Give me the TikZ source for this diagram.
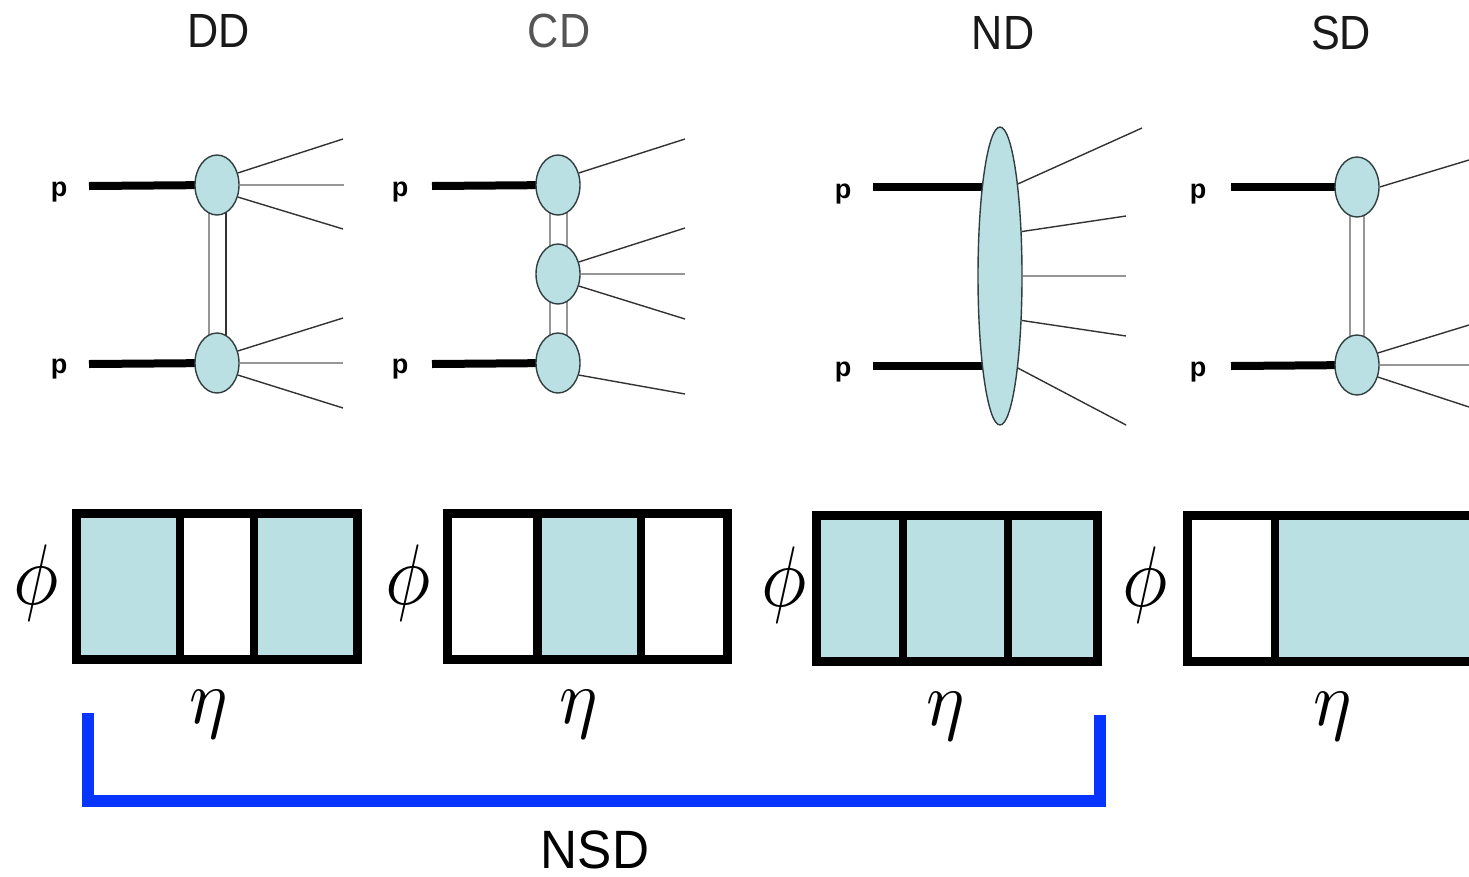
\documentclass[tikz,border=0pt]{standalone}
\usepackage{graphicx}
\usepackage{fontspec}
\setmainfont{Liberation Sans}
\usetikzlibrary{shapes.geometric}
\pgfdeclarelayer{bg}
\pgfsetlayers{bg,main}
\definecolor{blobfill}{RGB}{186,224,227}
\definecolor{blobedge}{RGB}{50,62,64}
\definecolor{jetdark}{RGB}{50,50,50}
\definecolor{jetlight}{RGB}{150,150,150}
\definecolor{nsdblue}{RGB}{8,52,255}
\definecolor{titlegray}{RGB}{85,85,85}
\definecolor{titledark}{RGB}{25,25,25}
\newcommand{\ttl}[1]{\scalebox{0.9}[1]{\fontsize{48}{50}\selectfont #1}}
\newcommand{\bigphi}{\scalebox{7.6}[8.6]{$\phi$}}
\newcommand{\bigeta}{\scalebox{7.2}[7.7]{$\eta$}}
\tikzset{
  blob/.style={ellipse, draw=blobedge, fill=blobfill, line width=1.4pt, minimum width=44pt, minimum height=60pt, inner sep=0pt},
  bigblob/.style={blob, minimum height=298pt},
  beam/.style={line width=8pt, black},
  jet/.style={draw=jetdark, line width=1.4pt},
  jetl/.style={draw=jetlight, line width=1.7pt},
  pomA/.style={draw=jetlight, line width=2pt},
  pomB/.style={draw=jetdark, line width=2pt},
  plabel/.style={font=\fontsize{27}{30}\selectfont\bfseries, anchor=base, inner sep=0pt},
  title/.style={inner sep=0pt, text=titledark},
  mathlabel/.style={inner sep=0pt},
  boxline/.style={line width=8.5pt, black},
  cellfill/.style={fill=blobfill},
  bracket/.style={draw=nsdblue, line width=12pt, line join=miter, line cap=butt}
}
\begin{document}
\begin{tikzpicture}[x=1pt,y=-1pt]
\useasboundingbox (0,0) rectangle (1469,876);
\clip (0,0) rectangle (1469,876);

% ---------- titles ----------
\node[title] (tDD) at (219,31) {\ttl{DD}};
\node[title, text=titlegray] (tCD) at (559,31) {\ttl{CD}};
\node[title] (tND) at (1003,33) {\ttl{ND}};
\node[title] (tSD) at (1341,33) {\ttl{SD}};

% ---------- DD diagram ----------
\node[blob] (dT) at (217,185) {};
\node[blob] (dB) at (217,363) {};
\node[plabel] (dpl1) at (59,196) {p};
\node[plabel] (dpl2) at (59,373) {p};
\coordinate (dp1) at (89,186);
\coordinate (dp2) at (89,364);
\coordinate (dj1) at (343,139);
\coordinate (dj2) at (344,185);
\coordinate (dj3) at (343,229);
\coordinate (dj4) at (343,318);
\coordinate (dj5) at (343,363);
\coordinate (dj6) at (343,408);

% ---------- CD diagram ----------
\node[blob] (cT) at (558,185) {};
\node[blob] (cM) at (558,274) {};
\node[blob] (cB) at (558,363) {};
\node[plabel] (cpl1) at (400,196) {p};
\node[plabel] (cpl2) at (400,373) {p};
\coordinate (cp1) at (432,186);
\coordinate (cp2) at (432,364);
\coordinate (cj1) at (685,139);
\coordinate (cj2) at (685,228);
\coordinate (cj3) at (685,274);
\coordinate (cj4) at (685,319);
\coordinate (cj5) at (685,394);

% ---------- ND diagram ----------
\node[bigblob] (nE) at (1000,276) {};
\node[plabel] (npl1) at (843,198) {p};
\node[plabel] (npl2) at (843,376) {p};
\coordinate (np1) at (873,187);
\coordinate (np2) at (873,366);
\coordinate (nj1) at (1142,128);
\coordinate (nj2) at (1126,216);
\coordinate (nj3) at (1126,276);
\coordinate (nj4) at (1126,336);
\coordinate (nj5) at (1126,425);

% ---------- SD diagram ----------
\node[blob] (sT) at (1357,187) {};
\node[blob] (sB) at (1357,365) {};
\node[plabel] (spl1) at (1198,198) {p};
\node[plabel] (spl2) at (1198,376) {p};
\coordinate (sp1) at (1231,187);
\coordinate (sp2) at (1231,366);
\coordinate (sj1) at (1469,160);
\coordinate (sj2) at (1469,325);
\coordinate (sj3) at (1469,365);
\coordinate (sj4) at (1469,407);

\begin{pgfonlayer}{bg}
  % DD
  \draw[beam] (dp1) -- (dT.center);
  \draw[beam] (dp2) -- (dB.center);
  \draw[pomA] ([xshift=-8.5pt]dT.center) -- ([xshift=-8.5pt]dB.center);
  \draw[pomB] ([xshift=8.5pt]dT.center) -- ([xshift=8.5pt]dB.center);
  \draw[jet] (dT.30) -- (dj1);
  \draw[jetl] (dT.0) -- (dj2);
  \draw[jet] (dT.-30) -- (dj3);
  \draw[jet] (dB.30) -- (dj4);
  \draw[jetl] (dB.0) -- (dj5);
  \draw[jet] (dB.-30) -- (dj6);
  % CD
  \draw[beam] (cp1) -- (cT.center);
  \draw[beam] (cp2) -- (cB.center);
  \draw[pomA] ([xshift=-8.5pt]cT.center) -- ([xshift=-8.5pt]cB.center);
  \draw[pomA] ([xshift=8.5pt]cT.center) -- ([xshift=8.5pt]cB.center);
  \draw[jet] (cT.30) -- (cj1);
  \draw[jet] (cM.30) -- (cj2);
  \draw[jetl] (cM.0) -- (cj3);
  \draw[jet] (cM.-30) -- (cj4);
  \draw[jet] (cB.-30) -- (cj5);
  % ND
  \draw[beam] (np1) -- (nE.center |- np1);
  \draw[beam] (np2) -- (nE.center |- np2);
  \draw[jet] (nE.79) -- (nj1);
  \draw[jet] (nE.64) -- (nj2);
  \draw[jetl] (nE.0) -- (nj3);
  \draw[jet] (nE.-64) -- (nj4);
  \draw[jet] (nE.-79) -- (nj5);
  % SD
  \draw[beam] (sp1) -- (sT.center);
  \draw[beam] (sp2) -- (sB.center);
  \draw[pomA] ([xshift=-7pt]sT.center) -- ([xshift=-7pt]sB.center);
  \draw[pomA] ([xshift=7pt]sT.center) -- ([xshift=7pt]sB.center);
  \draw[jet] (sT.0) -- (sj1);
  \draw[jet] (sB.30) -- (sj2);
  \draw[jetl] (sB.0) -- (sj3);
  \draw[jet] (sB.-30) -- (sj4);
\end{pgfonlayer}

% ---------- eta-phi boxes ----------
% DD
\fill[cellfill] (76.5,513.5) rectangle (180,659.5);
\fill[cellfill] (254,513.5) rectangle (357.5,659.5);
\draw[boxline] (76.5,513.5) rectangle (357.5,659.5);
\draw[boxline] (180,513.5) -- (180,659.5);
\draw[boxline] (254,513.5) -- (254,659.5);
% CD
\fill[cellfill] (537.5,513.5) rectangle (641,659.5);
\draw[boxline] (447.5,513.5) rectangle (727.5,659.5);
\draw[boxline] (537.5,513.5) -- (537.5,659.5);
\draw[boxline] (641,513.5) -- (641,659.5);
% ND
\fill[cellfill] (816.5,515.5) rectangle (1097.5,661.5);
\draw[boxline] (816.5,515.5) rectangle (1097.5,661.5);
\draw[boxline] (903,515.5) -- (903,661.5);
\draw[boxline] (1008,515.5) -- (1008,661.5);
% SD
\fill[cellfill] (1275,515.5) rectangle (1530,661.5);
\draw[boxline] (1187.5,515.5) rectangle (1530,661.5);
\draw[boxline] (1275,515.5) -- (1275,661.5);

% phi / eta labels
\node[mathlabel] (phi1) at (36,583) {\bigphi};
\node[mathlabel] (phi2) at (408,583) {\bigphi};
\node[mathlabel] (phi3) at (784,585) {\bigphi};
\node[mathlabel] (phi4) at (1145,585) {\bigphi};
\node[mathlabel] (eta1) at (209,714) {\bigeta};
\node[mathlabel] (eta2) at (579,714) {\bigeta};
\node[mathlabel] (eta3) at (946,716) {\bigeta};
\node[mathlabel] (eta4) at (1333,716) {\bigeta};

% ---------- NSD bracket ----------
\coordinate (bL) at (88,713);
\coordinate (bR) at (1100,715);
\draw[bracket] (bL) -- (bL |- 0,801) -- (bR |- 0,801) -- (bR);
\node[inner sep=0pt] (nsd) at (595,850) {\scalebox{0.95}[1]{\fontsize{54}{58}\selectfont NSD}};
\end{tikzpicture}
\end{document}
